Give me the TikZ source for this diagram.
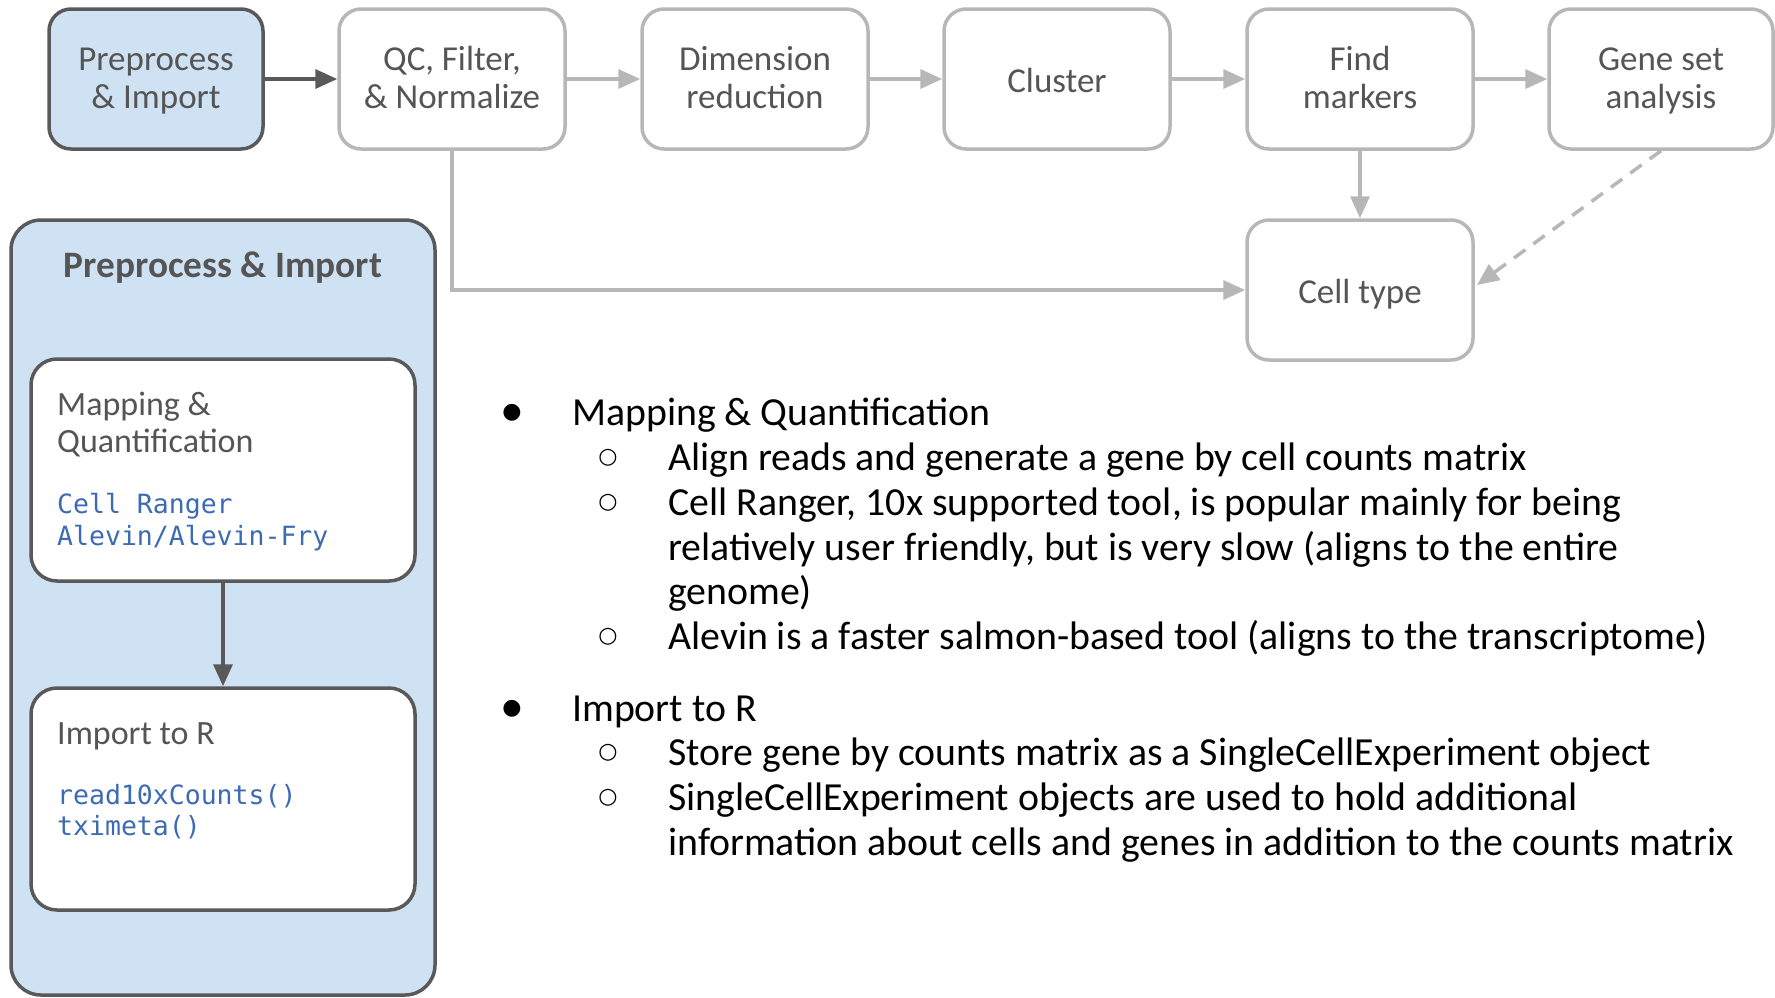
\documentclass[tikz,border=0pt]{standalone}
\usepackage{fontspec}
\setmainfont{Carlito}
\setmonofont{DejaVu Sans Mono}
\newfontfamily\symfont{DejaVu Sans}
\usetikzlibrary{arrows.meta}
\definecolor{boxgray}{HTML}{B7B7B7}
\definecolor{darkline}{HTML}{595959}
\definecolor{lblue}{HTML}{CFE2F3}
\definecolor{codeblue}{HTML}{3D6BB3}
\definecolor{labeltxt}{HTML}{555555}
\begin{document}
\begin{tikzpicture}[x=1pt,y=-1pt,
  stepbox/.style={draw=boxgray, line width=3.5pt, rounded corners=22pt, fill=white,
    minimum width=226pt, minimum height=140pt, align=center, text=labeltxt,
    font=\fontsize{35}{38.5}\selectfont,
    execute at begin node={\rule[-12pt]{0pt}{51pt}}},
  twoline/.style={execute at begin node={\rule[-12pt]{0pt}{83pt}}},
  prebox/.style={stepbox, draw=darkline, fill=lblue, minimum width=214pt},
  innerbox/.style={draw=darkline, line width=3.5pt, rounded corners=26pt, fill=white,
    minimum width=384pt, minimum height=222pt},
  garrow/.style={draw=boxgray, line width=3.5pt, -{Triangle[length=22pt,width=19pt]}},
  darrow/.style={draw=darkline, line width=3.5pt, -{Triangle[length=22pt,width=19pt]}},
  innertxt/.style={anchor=base west, inner sep=0pt, text=labeltxt, font=\fontsize{34}{38}\selectfont},
  codetxt/.style={anchor=base west, inner sep=0pt, text=codeblue, font=\ttfamily\fontsize{26.5}{32}\selectfont},
  bultxt/.style={anchor=base west, inner sep=0pt, text=black, font=\fontsize{39.8}{45}\selectfont},
  bulmark/.style={anchor=center, inner sep=0pt, text=black, font=\symfont\fontsize{22}{22}\selectfont},
]
\useasboundingbox (0,0) rectangle (1775,997);

% top pipeline
\node[prebox, twoline]  (pre)  at (156,79)  {Preprocess\\\& Import};
\node[stepbox, twoline] (qc)   at (452,79)  {QC, Filter,\\\& Normalize};
\node[stepbox, twoline] (dim)  at (755,79)  {Dimension\\reduction};
\node[stepbox] (clu)  at (1057,79) {Cluster};
\node[stepbox, twoline] (find) at (1360,79) {Find\\markers};
\node[stepbox, twoline, minimum width=224pt] (gene) at (1661,79) {Gene set\\analysis};
\node[stepbox] (cell) at (1360,290) {Cell type};

\draw[darrow] (pre) -- (qc);
\draw[garrow] (qc) -- (dim);
\draw[garrow] (dim) -- (clu);
\draw[garrow] (clu) -- (find);
\draw[garrow] (find) -- (gene);
\draw[garrow] (find) -- (cell);
\draw[garrow] (qc.south) |- (cell.west);
\coordinate (celltip) at (1477,285);
\draw[garrow, dash pattern=on 14pt off 10pt] (gene.south) -- (celltip);

% left panel
\draw[draw=darkline, fill=lblue, line width=3.5pt, rounded corners=30pt] (11,220) rectangle (435,995);
\node[text=labeltxt, font=\bfseries\fontsize{37.3}{42}\selectfont] (ptitle) at (223,268) {Preprocess \& Import};

\node[innerbox] (map) at (223,470) {};
\node[innerbox] (imp) at (223,799) {};
\draw[darrow] (map) -- (imp);

\node[innertxt] (m1) at (57,415) {Mapping \&};
\node[innertxt] (m2) at (57,452) {Quantification};
\node[codetxt]  (c1) at (57,513) {Cell Ranger};
\node[codetxt]  (c2) at (57,545) {Alevin/Alevin-Fry};

\node[innertxt] (i1) at (57,744) {Import to R};
\node[codetxt]  (c3) at (57,804) {read10xCounts()};
\node[codetxt]  (c4) at (57,835) {tximeta()};

% bullet list
\node[bulmark] (b1) at (512,413) {●};
\node[bultxt]  (l1) at (572,425) {Mapping \& Quantification};
\node[bulmark] (b2) at (608,458) {○};
\node[bultxt]  (l2) at (668,470) {Align reads and generate a gene by cell counts matrix};
\node[bulmark] (b3) at (608,503) {○};
\node[bultxt]  (l3) at (668,515) {Cell Ranger, 10x supported tool, is popular mainly for being};
\node[bultxt]  (l4) at (668,560) {relatively user friendly, but is very slow (aligns to the entire};
\node[bultxt]  (l5) at (668,604) {genome)};
\node[bulmark] (b4) at (608,637) {○};
\node[bultxt]  (l6) at (668,649) {Alevin is a faster salmon-based tool (aligns to the transcriptome)};
\node[bulmark] (b5) at (512,709) {●};
\node[bultxt]  (l7) at (572,721) {Import to R};
\node[bulmark] (b6) at (608,753) {○};
\node[bultxt]  (l8) at (668,765) {Store gene by counts matrix as a SingleCellExperiment object};
\node[bulmark] (b7) at (608,798) {○};
\node[bultxt]  (l9) at (668,810) {SingleCellExperiment objects are used to hold additional};
\node[bultxt]  (l10) at (668,855) {information about cells and genes in addition to the counts matrix};
\end{tikzpicture}
\end{document}
